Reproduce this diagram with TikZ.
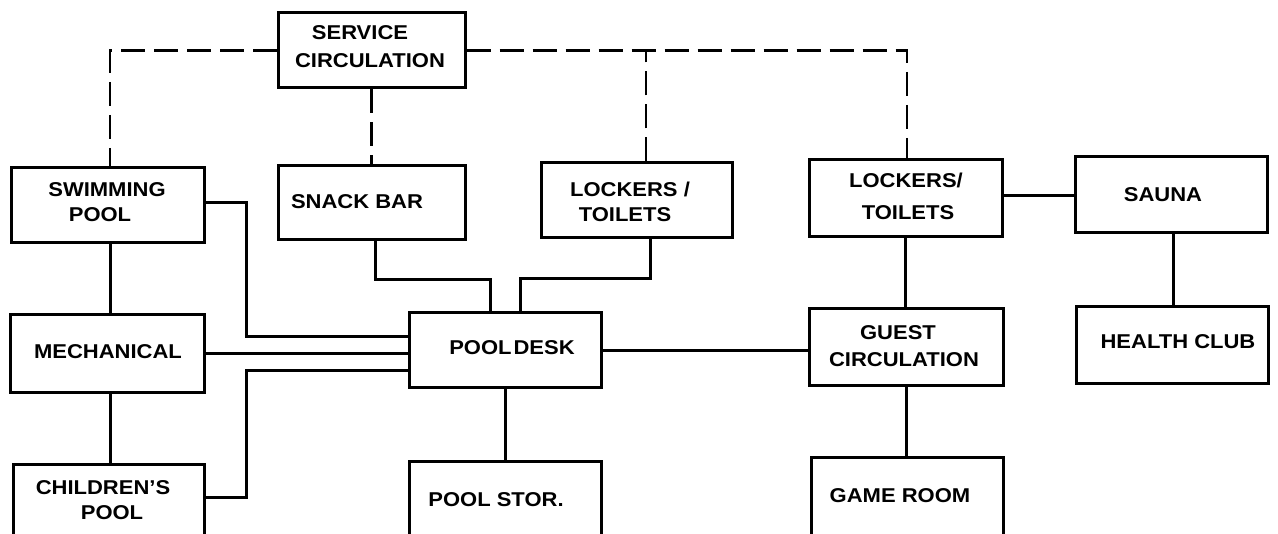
\documentclass[tikz,border=0pt]{standalone}
\usepackage{fontspec}
\setmainfont{Liberation Sans Bold}[FakeStretch=1.1]
\usetikzlibrary{calc}
\tikzset{
  box/.style={draw, line width=3pt, rectangle, inner sep=0pt},
  lbl/.style={anchor=base, inner sep=0pt, font=\fontsize{20}{27}\selectfont},
  conn/.style={line width=3pt},
  svc/.style={line width=2.6pt, dash pattern=on 24pt off 9pt},
}
\begin{document}
\begin{tikzpicture}[x=1pt,y=-1pt]
\useasboundingbox (0,0) rectangle (1278,534);
\clip (0,0) rectangle (1278,534);
\fill[white] (0,0) rectangle (1278,534);
% boxes
\node[box, minimum width=187, minimum height=75] (sc) at (371.5,50.5) {};
\node[box, minimum width=193, minimum height=75] (sw) at (107.5,205.5) {};
\node[box, minimum width=187, minimum height=74] (sb) at (371.5,203) {};
\node[box, minimum width=191, minimum height=75] (l1) at (636.5,200.5) {};
\node[box, minimum width=193, minimum height=77] (l2) at (905.5,198.5) {};
\node[box, minimum width=192, minimum height=76] (sa) at (1171,195) {};
\node[box, minimum width=194, minimum height=78] (me) at (107,354) {};
\node[box, minimum width=192, minimum height=75] (pd) at (505,350.5) {};
\node[box, minimum width=194, minimum height=77] (gc) at (906,347.5) {};
\node[box, minimum width=192, minimum height=77] (hc) at (1172,345.5) {};
\node[box, minimum width=191, minimum height=80] (cp) at (108.5,505) {};
\node[box, minimum width=192, minimum height=80] (ps) at (505,502) {};
\node[box, minimum width=192, minimum height=80] (gr) at (907,498) {};
% labels
\node[lbl] (sc1) at (360,40) {SERVICE};
\node[lbl] (sc2) at (370,68) {CIRCULATION};
\node[lbl] (sw1) at (107,197) {SWIMMING};
\node[lbl] (sw2) at (100,222) {POOL};
\node[lbl] (sb1) at (357,209) {SNACK BAR};
\node[lbl] (l11) at (630,197) {LOCKERS /};
\node[lbl] (l12) at (625,222) {TOILETS};
\node[lbl] (l21) at (906,188) {LOCKERS/};
\node[lbl] (l22) at (908,220) {TOILETS};
\node[lbl] (sa1) at (1163,202) {SAUNA};
\node[lbl] (me1) at (108,359) {MECHANICAL};
\node[lbl] (cp1) at (103,495) {CHILDREN'S};
\node[lbl] (cp2) at (112,520) {POOL};
\node[lbl] (pd1) at (512,355) {POOL\hspace{0.1em}DESK};
\node[lbl] (ps1) at (496,507) {POOL STOR.};
\node[lbl] (gc1) at (898,340) {GUEST};
\node[lbl] (gc2) at (904,367) {CIRCULATION};
\node[lbl] (gr1) at (900,503) {GAME ROOM};
\node[lbl] (hc1) at (1178,349) {HEALTH CLUB};
% dashed service connectors
\draw[svc] (sc.west) -| ([xshift=2.5]sw.north);
\draw[svc] (sc.south) -- (sc.south |- sb.north);
\draw[svc] (sc.east) -| ([xshift=1.5]l2.north);
\draw[svc] ([xshift=9.5]l1.north) -- ([xshift=9.5]l1.north |- sc.east);
% solid connectors
\draw[conn] ([xshift=2.5]sw.south) -- ([xshift=2.5]sw.south |- me.north);
\draw[conn] ([xshift=3]me.south) -- ([xshift=3]me.south |- cp.north);
\draw[conn] ([yshift=2.5]sw.east) -- ++(41,0) |- ([yshift=13.5]pd.west);
\draw[conn] (me.east) -- (me.east -| pd.west);
\draw[conn] ([yshift=7]cp.east) -- ++(41,0) |- ([yshift=-20.5]pd.west);
\draw[conn] ([xshift=3.5]sb.south) -- ++(0,38) -| ([xshift=-15]pd.north);
\draw[conn] ([xshift=13.5]l1.south) -- ++(0,39) -| ([xshift=15]pd.north);
\draw[conn] (pd.south) -- (pd.south |- ps.north);
\draw[conn] (pd.east) -- (pd.east -| gc.west);
\draw[conn] (l2.south) -- (l2.south |- gc.north);
\draw[conn] (gc.south) -- (gc.south |- gr.north);
\draw[conn] ([yshift=2.5]l2.east) -- ([yshift=2.5]l2.east -| sa.west);
\draw[conn] ([xshift=2]sa.south) -- ([xshift=2]sa.south |- hc.north);
\end{tikzpicture}
\end{document}
